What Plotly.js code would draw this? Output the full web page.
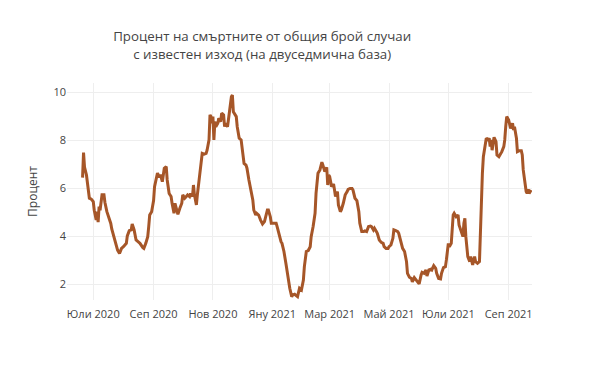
<!DOCTYPE html>
<html>
<head>
<meta charset="utf-8">
<script src="https://cdn.plot.ly/plotly-3.0.1.min.js"></script>
<style>html,body{margin:0;padding:0;background:#fff;}#chart{width:600px;height:375px;}</style>
</head>
<body>
<div id="chart"></div>
<script>
const dates = [
"2020-06-20","2020-06-21","2020-06-22","2020-06-24","2020-06-27","2020-06-29","2020-07-01","2020-07-02","2020-07-04","2020-07-05",
"2020-07-06","2020-07-07","2020-07-08","2020-07-09","2020-07-10","2020-07-12","2020-07-13","2020-07-15","2020-07-17","2020-07-19",
"2020-07-20","2020-07-22","2020-07-24","2020-07-26","2020-07-28","2020-07-30","2020-08-01","2020-08-04","2020-08-05","2020-08-07",
"2020-08-09","2020-08-10","2020-08-12","2020-08-14","2020-08-16","2020-08-18","2020-08-21","2020-08-22","2020-08-24","2020-08-26",
"2020-08-27","2020-08-28","2020-08-30","2020-09-01","2020-09-02","2020-09-04","2020-09-05","2020-09-07","2020-09-08","2020-09-10",
"2020-09-12","2020-09-14","2020-09-15","2020-09-17","2020-09-19","2020-09-20","2020-09-22","2020-09-23","2020-09-25","2020-09-26",
"2020-09-28","2020-09-30","2020-10-01","2020-10-03","2020-10-04","2020-10-06","2020-10-08","2020-10-09","2020-10-11","2020-10-12",
"2020-10-13","2020-10-15","2020-10-16","2020-10-18","2020-10-20","2020-10-21","2020-10-23","2020-10-25","2020-10-26","2020-10-28",
"2020-10-29","2020-10-30","2020-10-31","2020-11-01","2020-11-02","2020-11-03","2020-11-04","2020-11-06","2020-11-07","2020-11-09",
"2020-11-10","2020-11-12","2020-11-13","2020-11-14","2020-11-16","2020-11-17","2020-11-18","2020-11-20","2020-11-21","2020-11-22",
"2020-11-23","2020-11-25","2020-11-26","2020-11-28","2020-11-30","2020-12-01","2020-12-03","2020-12-05","2020-12-06","2020-12-08",
"2020-12-10","2020-12-12","2020-12-13","2020-12-15","2020-12-16","2020-12-18","2020-12-20","2020-12-22","2020-12-24","2020-12-25",
"2020-12-27","2020-12-28","2020-12-30","2020-12-31","2021-01-01","2021-01-03","2021-01-05","2021-01-06","2021-01-08","2021-01-10",
"2021-01-11","2021-01-13","2021-01-15","2021-01-17","2021-01-18","2021-01-19","2021-01-21","2021-01-22","2021-01-24","2021-01-26",
"2021-01-27","2021-01-29","2021-01-31","2021-02-02","2021-02-03","2021-02-05","2021-02-07","2021-02-09","2021-02-10","2021-02-12",
"2021-02-14","2021-02-15","2021-02-17","2021-02-19","2021-02-21","2021-02-22","2021-02-24","2021-02-26","2021-02-27","2021-02-28",
"2021-03-01","2021-03-03","2021-03-05","2021-03-06","2021-03-07","2021-03-09","2021-03-10","2021-03-12","2021-03-13","2021-03-15",
"2021-03-17","2021-03-19","2021-03-20","2021-03-22","2021-03-24","2021-03-25","2021-03-27","2021-03-29","2021-03-31","2021-04-01",
"2021-04-03","2021-04-05","2021-04-06","2021-04-08","2021-04-10","2021-04-12","2021-04-13","2021-04-15","2021-04-16","2021-04-18",
"2021-04-19","2021-04-21","2021-04-23","2021-04-25","2021-04-26","2021-04-28","2021-04-30","2021-05-01","2021-05-03","2021-05-05",
"2021-05-06","2021-05-08","2021-05-10","2021-05-11","2021-05-13","2021-05-15","2021-05-17","2021-05-19","2021-05-20","2021-05-22",
"2021-05-24","2021-05-25","2021-05-27","2021-05-29","2021-05-30","2021-06-01","2021-06-03","2021-06-04","2021-06-06","2021-06-08",
"2021-06-09","2021-06-11","2021-06-13","2021-06-14","2021-06-16","2021-06-18","2021-06-19","2021-06-21","2021-06-23","2021-06-24",
"2021-06-26","2021-06-28","2021-06-29","2021-07-01","2021-07-02","2021-07-04","2021-07-06","2021-07-07","2021-07-09","2021-07-11",
"2021-07-12","2021-07-14","2021-07-16","2021-07-17","2021-07-18","2021-07-19","2021-07-21","2021-07-23","2021-07-24","2021-07-26",
"2021-07-28","2021-07-29","2021-07-31","2021-08-02","2021-08-03","2021-08-04","2021-08-05","2021-08-06","2021-08-07","2021-08-09",
"2021-08-11","2021-08-12","2021-08-13","2021-08-14","2021-08-15","2021-08-17","2021-08-19","2021-08-20","2021-08-22","2021-08-23",
"2021-08-25","2021-08-27","2021-08-28","2021-08-29","2021-08-30","2021-09-01","2021-09-02","2021-09-03","2021-09-05","2021-09-06",
"2021-09-07","2021-09-09","2021-09-10","2021-09-12","2021-09-14","2021-09-15","2021-09-16","2021-09-18","2021-09-19","2021-09-20",
"2021-09-21","2021-09-22","2021-09-23","2021-09-24"
];
const percent = [
6.46,7.5,6.9,6.57,5.6,5.56,5.46,5.1,4.7,5.04,
4.6,5.25,5.1,5.36,5.74,5.74,5.42,5.04,4.83,4.55,
4.32,4.0,3.72,3.44,3.3,3.51,3.58,3.72,4.03,4.25,
4.28,4.53,4.28,3.86,3.79,3.72,3.54,3.51,3.72,4.0,
4.42,4.9,5.04,5.5,6.08,6.57,6.65,6.47,6.58,6.29,
6.85,6.92,6.36,5.8,5.67,5.39,4.97,5.39,5.04,4.93,
5.18,5.39,5.74,5.6,5.64,5.74,5.67,5.8,5.67,6.15,
5.74,5.32,5.74,6.5,7.12,7.47,7.44,7.47,7.6,8.03,
9.07,9.0,8.72,9.0,8.03,8.79,8.58,8.72,8.93,8.79,
9.14,9.07,8.58,8.72,8.58,9.07,9.2,9.83,9.9,9.2,
9.14,9.0,8.58,8.1,8.03,7.6,7.05,6.98,6.85,6.36,
5.94,5.53,5.11,4.9,4.97,4.9,4.69,4.53,4.63,4.83,
5.11,5.11,4.83,4.56,4.56,4.53,4.56,4.42,4.07,3.79,
3.72,3.38,2.89,2.33,2.26,1.85,1.5,1.57,1.6,1.54,
1.5,1.85,1.78,2.19,2.75,3.38,3.42,3.58,4.0,4.42,
4.97,5.8,6.64,6.78,7.1,6.99,6.71,6.89,6.15,6.57,
6.5,6.08,6.19,5.94,5.67,5.88,5.32,5.04,5.11,5.39,
5.74,5.88,5.97,6.01,6.01,5.94,5.6,5.5,5.04,4.56,
4.21,4.21,4.24,4.21,4.42,4.44,4.42,4.28,4.35,4.21,
4.14,3.86,3.76,3.72,3.58,3.51,3.51,3.58,3.65,3.93,
4.28,4.25,4.21,4.14,3.79,3.51,3.38,2.96,2.47,2.31,
2.26,2.12,2.29,2.19,2.12,2.03,2.4,2.51,2.47,2.61,
2.36,2.61,2.64,2.61,2.79,2.68,2.47,2.26,2.24,2.47,
2.71,2.75,3.03,3.72,3.58,3.72,4.9,4.97,4.83,4.9,
4.49,4.28,4.0,4.56,4.76,4.0,3.17,2.96,3.17,2.82,
3.17,2.96,2.89,2.96,4.42,5.53,6.64,7.33,7.54,8.1,
8.03,8.1,7.75,8.03,7.6,8.14,7.96,7.4,7.33,7.4,
7.54,7.75,8.03,8.58,9.0,8.86,8.65,8.51,8.72,8.44,
8.58,8.1,7.54,7.58,7.58,7.4,6.78,6.08,5.88,5.8,
5.97,5.8,5.88,5.94
];
const tickDates = ["2020-07-01","2020-09-01","2020-11-01","2021-01-01","2021-03-01","2021-05-01","2021-07-01","2021-09-01"];
const tickLabels = ["Юли 2020","Сеп 2020","Нов 2020","Яну 2021","Мар 2021","Май 2021","Юли 2021","Сеп 2021"];
const titleLines = ["Процент на смъртните от общия брой случаи","с известен изход (на двуседмична база)"];
const yTitle = "Процент";

const trace = {
  x: dates, y: percent, type: "scatter", mode: "lines",
  line: {color: "#a65628", width: 3}, hoverinfo: "x+y"
};
const layout = {
  width: 600, height: 375,
  margin: {l: 67, r: 68, t: 83, b: 75},
  paper_bgcolor: "#fff", plot_bgcolor: "#fff",
  font: {family: '"Open Sans", verdana, arial, sans-serif', size: 11, color: "#444"},
  title: {text: titleLines.join("<br>"), x: 0.437, xref: "container", xanchor: "center",
          y: 0.89, yref: "container", yanchor: "middle", font: {size: 13.3, color: "#444"}},
  showlegend: false,
  xaxis: {type: "date", range: ["2020-06-04", "2021-09-25"], tickvals: tickDates, ticktext: tickLabels,
          showgrid: true, gridcolor: "#eeeeee", zeroline: false, showline: false, ticks: "",
          ticklabelstandoff: 6},
  yaxis: {range: [1.36, 10.4], tickvals: [2,4,6,8,10], showgrid: true, gridcolor: "#eeeeee",
          zeroline: false, showline: false, ticks: "",
          title: {text: yTitle, font: {size: 12}, standoff: 13}}
};
Plotly.newPlot("chart", [trace], layout, {displayModeBar: false, staticPlot: true});
</script>
</body>
</html>
